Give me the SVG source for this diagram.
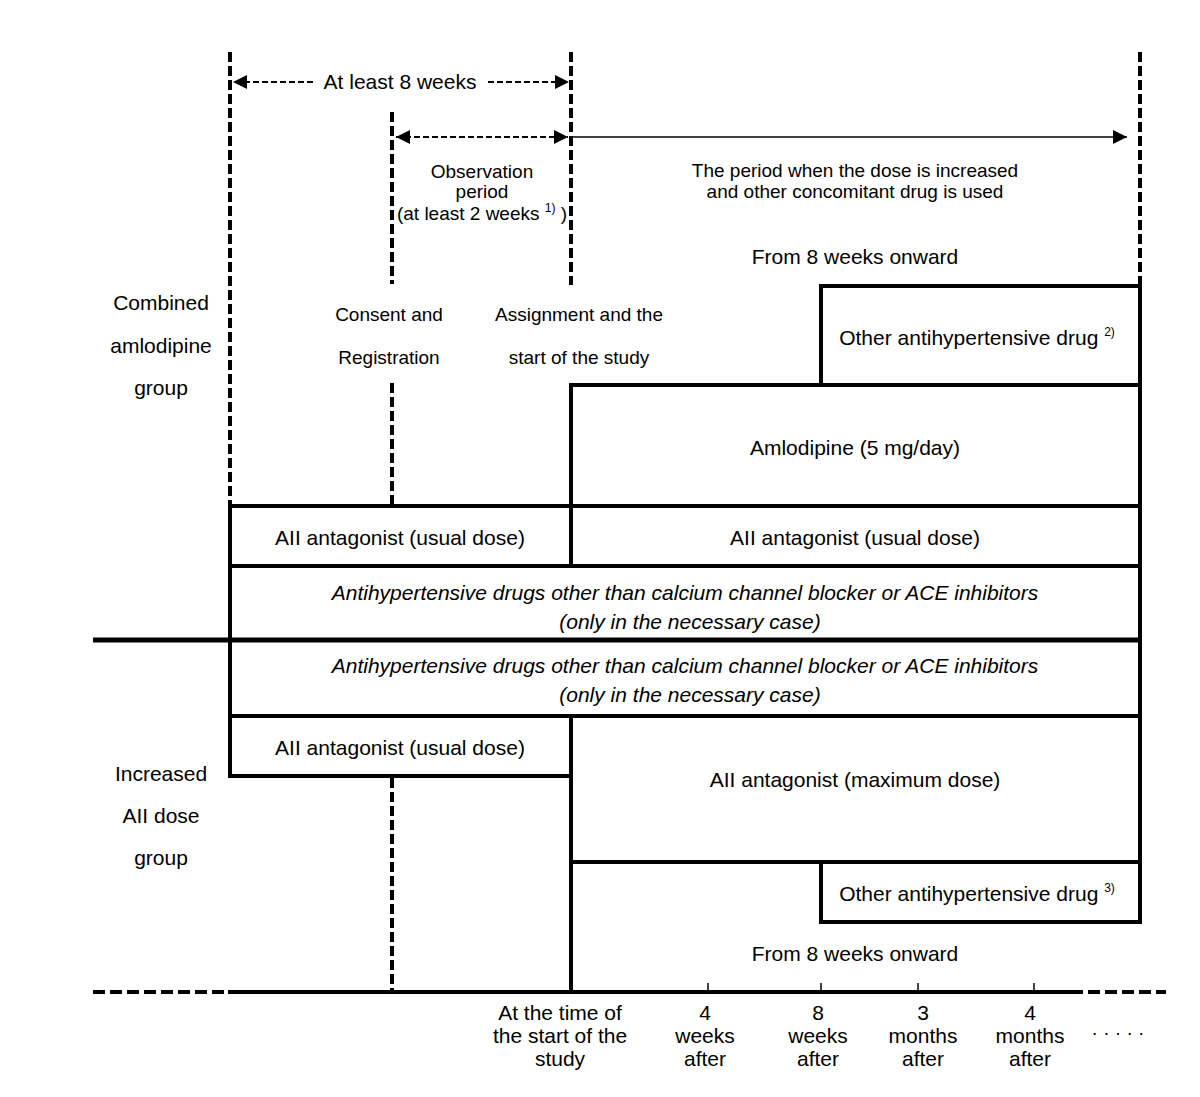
<svg xmlns="http://www.w3.org/2000/svg" width="1200" height="1097" viewBox="0 0 1200 1097">
<style>
text{font-family:"Liberation Sans",Arial,sans-serif;fill:#000;text-anchor:middle}
.t21{font-size:21px}
.t19{font-size:19px}
.it{font-style:italic}
.sup{font-size:12px}
.box{fill:none;stroke:#000;stroke-width:4}
.vdash{stroke:#000;stroke-width:4;stroke-dasharray:10 4;fill:none}
.solid{stroke:#000;stroke-width:4;fill:none}
.thin{stroke:#000;stroke-width:1.5;fill:none}
.tdash{stroke:#000;stroke-width:2;stroke-dasharray:6 3;fill:none}
.hdash{stroke:#000;stroke-width:4;stroke-dasharray:12 5;fill:none}
</style>
<defs>
<marker id="ah" viewBox="0 0 10 10" refX="10" refY="5" markerUnits="userSpaceOnUse" markerWidth="14" markerHeight="14" orient="auto-start-reverse">
<path d="M0,0 L10,5 L0,10 z" fill="#000"/>
</marker>
</defs>

<g id="connectors">
<line class="vdash" x1="230" y1="52" x2="230" y2="505"/>
<line class="vdash" x1="392" y1="112" x2="392" y2="284"/>
<line class="vdash" x1="392" y1="383" x2="392" y2="505"/>
<line class="vdash" x1="392" y1="778" x2="392" y2="990"/>
<line class="vdash" x1="571" y1="52" x2="571" y2="285"/>
<line class="vdash" x1="1140" y1="52" x2="1140" y2="285"/>
<line class="solid" x1="571" y1="862" x2="571" y2="992"/>
<line x1="93" y1="640" x2="1140" y2="640" stroke="#000" stroke-width="5"/>
<line class="solid" x1="228" y1="992" x2="1083" y2="992"/>
<line class="hdash" x1="93" y1="992" x2="226" y2="992"/>
<line class="hdash" x1="1088" y1="992" x2="1166" y2="992"/>
<line class="thin" x1="708" y1="983" x2="708" y2="992"/>
<line class="thin" x1="821" y1="983" x2="821" y2="992"/>
<line class="thin" x1="918" y1="983" x2="918" y2="992"/>
<line class="thin" x1="1034" y1="983" x2="1034" y2="992"/>
<line class="tdash" x1="313" y1="82" x2="233" y2="82" marker-end="url(#ah)"/>
<line class="tdash" x1="488" y1="82" x2="569" y2="82" marker-end="url(#ah)"/>
<line class="tdash" x1="396" y1="137" x2="568" y2="137" marker-start="url(#ah)" marker-end="url(#ah)"/>
<line class="thin" x1="573" y1="137" x2="1127" y2="137" marker-end="url(#ah)"/>
</g>

<g id="label-8weeks"><text class="t21" x="400" y="89">At least 8 weeks</text></g>
<g id="label-observation">
<text class="t19" x="482" y="178">Observation</text>
<text class="t19" x="482" y="198">period</text>
<text class="t19" x="482" y="220">(at least 2 weeks <tspan class="sup" dy="-8">1)</tspan><tspan dy="8"> )</tspan></text>
</g>
<g id="label-period">
<text class="t19" x="855" y="177">The period when the dose is increased</text>
<text class="t19" x="855" y="198">and other concomitant drug is used</text>
</g>
<g id="label-from8-top"><text class="t21" x="855" y="264">From 8 weeks onward</text></g>
<g id="label-combined">
<text class="t21" x="161" y="310">Combined</text>
<text class="t21" x="161" y="353">amlodipine</text>
<text class="t21" x="161" y="395">group</text>
</g>
<g id="label-consent">
<text class="t19" x="389" y="321">Consent and</text>
<text class="t19" x="389" y="364">Registration</text>
</g>
<g id="label-assignment">
<text class="t19" x="579" y="321">Assignment and the</text>
<text class="t19" x="579" y="364">start of the study</text>
</g>

<g id="node-other2">
<rect class="box" x="821" y="286" width="319" height="99"/>
<text class="t21" x="977" y="345">Other antihypertensive drug <tspan class="sup" dy="-9">2)</tspan></text>
</g>
<g id="node-amlodipine">
<rect class="box" x="571" y="385" width="569" height="121"/>
<text class="t21" x="855" y="455">Amlodipine (5 mg/day)</text>
</g>
<g id="node-aii-usual-left-top">
<rect class="box" x="230" y="506" width="341" height="60"/>
<text class="t21" x="400" y="545">AII antagonist (usual dose)</text>
</g>
<g id="node-aii-usual-right-top">
<rect class="box" x="571" y="506" width="569" height="60"/>
<text class="t21" x="855" y="545">AII antagonist (usual dose)</text>
</g>
<g id="node-other-drugs-top">
<rect class="box" x="230" y="566" width="910" height="74"/>
<text class="t21 it" x="685" y="600">Antihypertensive drugs other than calcium channel blocker or ACE inhibitors</text>
<text class="t21 it" x="690" y="629">(only in the necessary case)</text>
</g>
<g id="node-other-drugs-bottom">
<rect class="box" x="230" y="640" width="910" height="76"/>
<text class="t21 it" x="685" y="673">Antihypertensive drugs other than calcium channel blocker or ACE inhibitors</text>
<text class="t21 it" x="690" y="702">(only in the necessary case)</text>
</g>
<g id="node-aii-usual-bottom">
<rect class="box" x="230" y="716" width="341" height="60"/>
<text class="t21" x="400" y="755">AII antagonist (usual dose)</text>
</g>
<g id="node-aii-max">
<rect class="box" x="571" y="716" width="569" height="146"/>
<text class="t21" x="855" y="787">AII antagonist (maximum dose)</text>
</g>
<g id="node-other3">
<rect class="box" x="821" y="862" width="319" height="60"/>
<text class="t21" x="977" y="901">Other antihypertensive drug <tspan class="sup" dy="-9">3)</tspan></text>
</g>
<g id="label-increased">
<text class="t21" x="161" y="781">Increased</text>
<text class="t21" x="161" y="823">AII dose</text>
<text class="t21" x="161" y="865">group</text>
</g>
<g id="label-from8-bottom"><text class="t21" x="855" y="961">From 8 weeks onward</text></g>

<g id="axis-labels">
<text class="t21" x="560" y="1020">At the time of</text>
<text class="t21" x="560" y="1043">the start of the</text>
<text class="t21" x="560" y="1066">study</text>
<text class="t21" x="705" y="1020">4</text>
<text class="t21" x="705" y="1043">weeks</text>
<text class="t21" x="705" y="1066">after</text>
<text class="t21" x="818" y="1020">8</text>
<text class="t21" x="818" y="1043">weeks</text>
<text class="t21" x="818" y="1066">after</text>
<text class="t21" x="923" y="1020">3</text>
<text class="t21" x="923" y="1043">months</text>
<text class="t21" x="923" y="1066">after</text>
<text class="t21" x="1030" y="1020">4</text>
<text class="t21" x="1030" y="1043">months</text>
<text class="t21" x="1030" y="1066">after</text>
<text class="t19" x="1118" y="1039">· · · · ·</text>
</g>
</svg>
